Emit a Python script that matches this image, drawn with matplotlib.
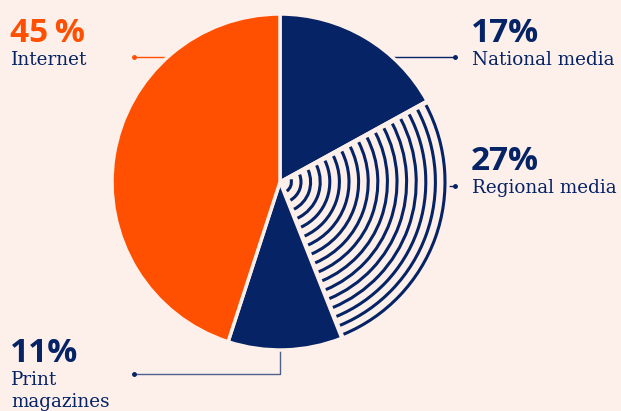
import matplotlib
matplotlib.use("Agg")
import matplotlib.pyplot as plt
from matplotlib.patches import Arc
import numpy as np

# ---- data ----
categories = ["National media", "Regional media", "Print magazines", "Internet"]
shares = [17, 27, 11, 45]
pct_labels = ["17%", "27%", "11%", "45\u2009%"]
name_labels = ["National media", "Regional media", "Print\nmagazines", "Internet"]

BG = "#fdf0eb"
NAVY = "#052365"
ORANGE = "#ff4f00"
slice_colors = [NAVY, BG, NAVY, ORANGE]

W, H = 621, 411
fig = plt.figure(figsize=(W / 100, H / 100), dpi=100, facecolor=BG)
ax = fig.add_axes([0, 0, 1, 1])
ax.set_facecolor(BG)

cx, cy, R = 280, 411 - 182, 168


def py(y):
    return H - y


# connector lines (drawn first, under the pie)
ax.plot([134, 230], [py(57), py(57)], color=ORANGE, lw=1, zorder=1)
ax.plot([134], [py(57)], "o", color=ORANGE, ms=2.5, zorder=1)
ax.plot([360, 455], [py(57), py(57)], color=NAVY, lw=1, zorder=1)
ax.plot([455], [py(57)], "o", color=NAVY, ms=2.5, zorder=1)
ax.plot([440, 455], [py(186), py(186)], color=NAVY, lw=1, zorder=1)
ax.plot([455], [py(186)], "o", color=NAVY, ms=2.5, zorder=1)
ax.plot([134, 280, 280], [py(374), py(374), py(340)], color=NAVY, lw=1, alpha=0.7, zorder=1)
ax.plot([134], [py(374)], "o", color=NAVY, ms=2.5, zorder=1)

wedges, _ = ax.pie(shares, colors=slice_colors, startangle=90, counterclock=False,
                   center=(cx, cy), radius=R, frame=True,
                   wedgeprops=dict(edgecolor=BG, linewidth=2.5))
for w in wedges:
    w.set_zorder(2)
ax.set_xlim(0, W)
ax.set_ylim(0, H)
ax.set_aspect("equal")
ax.axis("off")

# concentric-arc pattern in the regional slice
start = 90 - 360 * shares[0] / 100
end = start - 360 * shares[1] / 100
n_arcs = 17
for i in range(n_arcs):
    r = 165 - i * 9.6
    if r <= 3:
        break
    pad = np.degrees(3.0 / r)
    ax.add_patch(Arc((cx, cy), 2 * r, 2 * r, theta1=end + pad, theta2=start - pad,
                     color=NAVY, lw=2.2, zorder=3))

# texts
num_font = dict(family=["Open Sans", "DejaVu Sans"], fontweight="bold", fontsize=24)
lab_font = dict(family=["DejaVu Serif"], fontsize=13.2)

ax.text(10, py(42), pct_labels[3], color=ORANGE, va="baseline", ha="left", **num_font)
ax.text(11, py(65), name_labels[3], color=NAVY, va="baseline", ha="left", **lab_font)

ax.text(471, py(42), pct_labels[0], color=NAVY, va="baseline", ha="left", **num_font)
ax.text(472, py(65), name_labels[0], color=NAVY, va="baseline", ha="left", **lab_font)

ax.text(471, py(170), pct_labels[1], color=NAVY, va="baseline", ha="left", **num_font)
ax.text(472, py(193), name_labels[1], color=NAVY, va="baseline", ha="left", **lab_font)

ax.text(10, py(362), pct_labels[2], color=NAVY, va="baseline", ha="left", **num_font)
ax.text(11, py(385), "Print", color=NAVY, va="baseline", ha="left", **lab_font)
ax.text(11, py(407), "magazines", color=NAVY, va="baseline", ha="left", **lab_font)

fig.savefig("out.png", dpi=100, facecolor=BG)
